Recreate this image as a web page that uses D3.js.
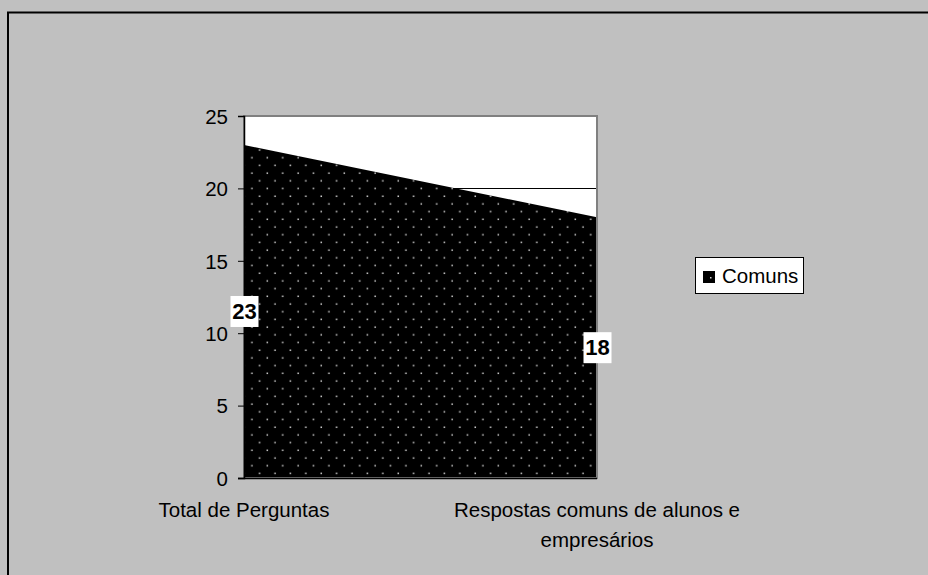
<!DOCTYPE html>
<html>
<head>
<meta charset="utf-8">
<script src="https://cdn.jsdelivr.net/npm/d3@7"></script>
<style>
  html, body { margin: 0; padding: 0; background: #c0c0c0; overflow: hidden; }
  svg { display: block; font-family: "Liberation Sans", Arial, sans-serif; }
</style>
</head>
<body>
<script>
// chart data
const categories = ['Total de Perguntas', 'Respostas comuns de alunos e empresários'];
const categoryLines = [['Total de Perguntas'], ['Respostas comuns de alunos e', 'empresários']];
const comuns = [23, 18];
const yTicks = [0, 5, 10, 15, 20, 25];
const seriesName = 'Comuns';

const W = 928, H = 575;
const FS = 20.5;
const svg = d3.select('body').append('svg').attr('width', W).attr('height', H);

// dotted fill pattern
const defs = svg.append('defs');
const pat = defs.append('pattern')
  .attr('id', 'dots')
  .attr('patternUnits', 'userSpaceOnUse')
  .attr('x', 244).attr('y', 478)
  .attr('width', 15.4).attr('height', 15.4);
pat.append('rect').attr('width', 15.4).attr('height', 15.4).attr('fill', '#000');
pat.append('rect').attr('x', 7.2).attr('y', 2.4).attr('width', 1.5).attr('height', 1.5).attr('fill', '#d0d0d0');
pat.append('rect').attr('x', -0.5).attr('y', 10.1).attr('width', 1.5).attr('height', 1.5).attr('fill', '#d0d0d0');
pat.append('rect').attr('x', 14.9).attr('y', 10.1).attr('width', 1.5).attr('height', 1.5).attr('fill', '#d0d0d0');

// outer chart border: only top and left edges are in the picture
svg.append('path')
  .attr('d', `M8,${H} L8,12.5 L${W},12.5`)
  .attr('fill', 'none').attr('stroke', '#000').attr('stroke-width', 2);

const x = d3.scalePoint().domain(categories).range([244, 597]).padding(0);
const y = d3.scaleLinear().domain([0, 25]).range([478, 116]);

// plot area
svg.append('rect')
  .attr('x', 244).attr('y', 116).attr('width', 353).attr('height', 362)
  .attr('fill', '#fff');

// gridlines
svg.append('g').selectAll('line').data(yTicks.filter(d => d > 0)).join('line')
  .attr('x1', 244).attr('x2', 597)
  .attr('y1', d => Math.round(y(d)) + 0.5).attr('y2', d => Math.round(y(d)) + 0.5)
  .attr('stroke', '#000').attr('stroke-width', 1);

// area
const rows = categories.map((c, i) => ({ c, v: comuns[i] }));
const area = d3.area().x(d => x(d.c)).y0(y(0)).y1(d => y(d.v));
svg.append('path').datum(rows)
  .attr('d', area)
  .attr('fill', 'url(#dots)');

// plot border (gray)
svg.append('rect')
  .attr('x', 244).attr('y', 116).attr('width', 353).attr('height', 362)
  .attr('fill', 'none').attr('stroke', '#808080').attr('stroke-width', 2);

// y axis
const yAxis = svg.append('g')
  .attr('transform', 'translate(244,0)')
  .call(d3.axisLeft(y).tickValues(yTicks).tickSize(6).tickPadding(10));
yAxis.select('.domain').attr('stroke', '#000').attr('stroke-width', 1.5);
yAxis.selectAll('.tick line').attr('stroke', '#000');
yAxis.selectAll('.tick text')
  .attr('font-family', '"Liberation Sans", Arial, sans-serif')
  .attr('font-size', FS).attr('fill', '#000')
  .attr('dy', '0.36em');

// x axis line
svg.append('line')
  .attr('x1', 238).attr('x2', 597).attr('y1', 478.5).attr('y2', 478.5)
  .attr('stroke', '#000').attr('stroke-width', 1.5);

// category labels
categoryLines.forEach((lines, i) => {
  const t = svg.append('text')
    .attr('x', x(categories[i]))
    .attr('y', 517)
    .attr('text-anchor', 'middle')
    .attr('font-size', FS);
  lines.forEach((l, j) => {
    t.append('tspan').attr('x', x(categories[i])).attr('dy', j === 0 ? 0 : 29.5).text(l);
  });
});

// data labels (placed at half height, like the original)
rows.forEach(d => {
  const cx = x(d.c), cy = y(d.v / 2);
  svg.append('rect')
    .attr('x', cx - 13.5).attr('y', cy - 15.5).attr('width', 28).attr('height', 31)
    .attr('fill', '#fff');
  svg.append('text')
    .attr('x', cx + 0.5).attr('y', cy + 7.5)
    .attr('text-anchor', 'middle')
    .attr('font-size', 22).attr('font-weight', 'bold')
    .text(d.v);
});

// legend
const lg = svg.append('g');
lg.append('rect')
  .attr('x', 695.5).attr('y', 257.5).attr('width', 108).attr('height', 36)
  .attr('fill', '#fff').attr('stroke', '#000').attr('stroke-width', 1);
lg.append('rect')
  .attr('x', 703).attr('y', 271).attr('width', 12).attr('height', 12)
  .attr('fill', '#000');
lg.append('rect')
  .attr('x', 710).attr('y', 277).attr('width', 1.5).attr('height', 1.5)
  .attr('fill', '#d0d0d0');
lg.append('text')
  .attr('x', 722).attr('y', 283)
  .attr('font-size', FS)
  .text(seriesName);
</script>
</body>
</html>
